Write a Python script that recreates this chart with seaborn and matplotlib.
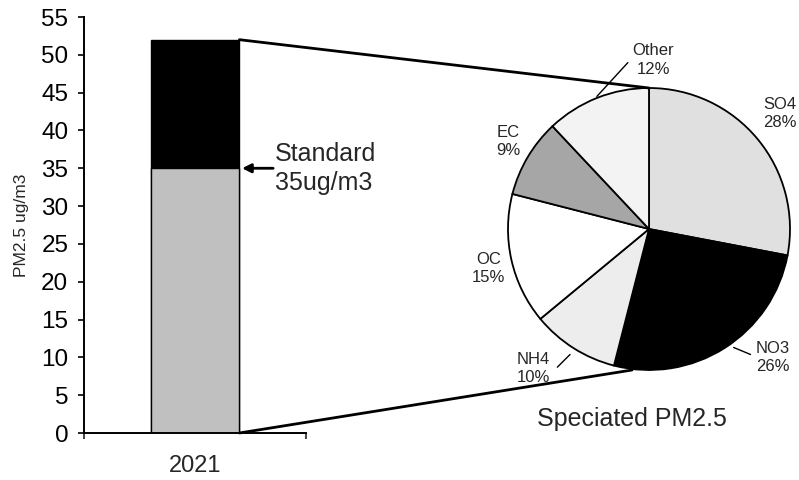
import matplotlib
matplotlib.use("Agg")
import matplotlib.pyplot as plt
from matplotlib.patches import ConnectionPatch
import seaborn as sns
import pandas as pd

# ---- data ----
years = ["2021"]
below_standard = [35]        # lower (grey) segment, ug/m3
above_standard = [17]        # upper (black) segment, ug/m3
standard_value = 35
species = ["SO4", "NO3", "NH4", "OC", "EC", "Other"]
shares = [28, 26, 10, 15, 9, 12]
y_ticks = list(range(0, 56, 5))

totals = [b + a for b, a in zip(below_standard, above_standard)]
df = pd.DataFrame({"year": years, "total": totals, "below": below_standard})

sns.set_style("ticks")
plt.rcParams["font.family"] = ["Liberation Sans", "DejaVu Sans"]

fig = plt.figure(figsize=(7.99, 4.80), dpi=100)

# ---- bar axes ----
ax = fig.add_axes([84 / 799, 1 - 433 / 480, 222 / 799, 416 / 480])
sns.barplot(data=df, x="year", y="total", color="black", width=0.4,
            saturation=1, edgecolor="black", linewidth=1, ax=ax)
sns.barplot(data=df, x="year", y="below", color="#c0c0c0", width=0.4,
            saturation=1, edgecolor="black", linewidth=1, ax=ax)
ax.set_xlim(-0.5, 0.5)
ax.set_ylim(0, 55)
ax.set_yticks(y_ticks)
ax.tick_params(axis="y", labelsize=17.5, length=4.3, width=1.2, pad=7, colors="black")
ax.set_xticks([-0.5, 0.5], ["", ""])
ax.set_xticks([0], years, minor=True)
ax.tick_params(axis="x", which="major", length=4.3, width=1.2)
ax.tick_params(axis="x", which="minor", length=0, pad=16, labelsize=17)
ax.set_xlabel("")
ax.set_ylabel("PM2.5 ug/m3", fontsize=12.5, labelpad=9)
for s in ["left", "bottom"]:
    ax.spines[s].set_linewidth(1.4)
    ax.spines[s].set_color("black")
sns.despine(ax=ax)

# standard annotation
ax.annotate("", xy=(0.212, standard_value), xytext=(0.352, standard_value),
            arrowprops=dict(arrowstyle="-|>", color="black", lw=2, mutation_scale=13,
                            shrinkA=0, shrinkB=0), annotation_clip=False)
ax.text(0.36, standard_value, "Standard\n35ug/m3", ha="left", va="center",
        fontsize=18, linespacing=1.25, clip_on=False)

# ---- pie axes ----
R = 141.0
cx, cy = 649, 229
half = 1.25 * R
ax2 = fig.add_axes([(cx - half) / 799, 1 - (cy + half) / 480, 2 * half / 799, 2 * half / 480])
pie_colors = ["#e0e0e0", "#000000", "#ededed", "#ffffff", "#a6a6a6", "#f3f3f3"]
wedges, _ = ax2.pie(shares, colors=pie_colors, startangle=90, counterclock=False,
                    wedgeprops=dict(edgecolor="black", linewidth=1.3))
ax2.set_xlim(-1.25, 1.25)
ax2.set_ylim(-1.25, 1.25)

label_pos = {
    "SO4": (0.93, 0.82),
    "NO3": (0.88, -0.91),
    "NH4": (-0.82, -0.99),
    "OC": (-1.14, -0.28),
    "EC": (-1.0, 0.62),
    "Other": (0.03, 1.2),
}
for name, val in zip(species, shares):
    x, y = label_pos[name]
    ax2.text(x, y, f"{name}\n{val}%", ha="center", va="center", fontsize=12,
             linespacing=1.3, clip_on=False)

# leader lines
ax2.plot([-0.15, -0.37], [1.18, 0.94], color="black", lw=1, clip_on=False)
ax2.plot([0.60, 0.72], [-0.84, -0.89], color="black", lw=1, clip_on=False)
ax2.plot([-0.65, -0.56], [-0.98, -0.89], color="black", lw=1, clip_on=False)

ax2.text(-0.12, -1.35, "Speciated PM2.5", ha="center", va="center", fontsize=18,
         clip_on=False)

# connector lines from bar to pie
for ya, xyb in [(totals[0], (0.0, 1.0)), (0, (-0.12, -1.0))]:
    con = ConnectionPatch(xyA=(0.2, ya), coordsA=ax.transData,
                          xyB=xyb, coordsB=ax2.transData,
                          color="black", lw=2)
    fig.add_artist(con)

fig.savefig("out.png", dpi=100)
